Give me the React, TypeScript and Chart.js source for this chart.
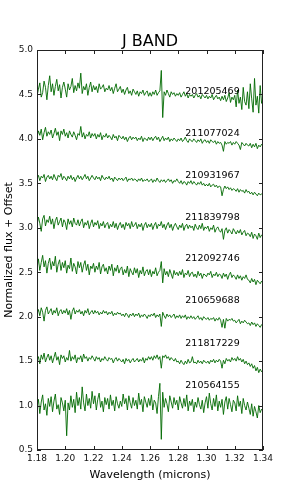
import React, { useEffect, useRef } from "react";
import { Chart, registerables } from "chart.js";

Chart.register(...registerables);

const wavelength = [
  1.180, 1.181, 1.182, 1.183, 1.184, 1.185, 1.186, 1.187, 1.188, 1.189,
  1.190, 1.191, 1.192, 1.193, 1.194, 1.195, 1.196, 1.197, 1.198, 1.199,
  1.200, 1.201, 1.202, 1.203, 1.204, 1.205, 1.206, 1.207, 1.208, 1.209,
  1.210, 1.211, 1.212, 1.213, 1.214, 1.215, 1.216, 1.217, 1.218, 1.219,
  1.220, 1.221, 1.222, 1.223, 1.224, 1.225, 1.226, 1.227, 1.228, 1.229,
  1.230, 1.231, 1.232, 1.233, 1.234, 1.235, 1.236, 1.237, 1.238, 1.239,
  1.240, 1.241, 1.242, 1.243, 1.244, 1.245, 1.246, 1.247, 1.248, 1.249,
  1.250, 1.251, 1.252, 1.253, 1.254, 1.255, 1.256, 1.257, 1.258, 1.259,
  1.260, 1.261, 1.262, 1.263, 1.264, 1.265, 1.266, 1.267, 1.268, 1.269,
  1.270, 1.271, 1.272, 1.273, 1.274, 1.275, 1.276, 1.277, 1.278, 1.279,
  1.280, 1.281, 1.282, 1.283, 1.284, 1.285, 1.286, 1.287, 1.288, 1.289,
  1.290, 1.291, 1.292, 1.293, 1.294, 1.295, 1.296, 1.297, 1.298, 1.299,
  1.300, 1.301, 1.302, 1.303, 1.304, 1.305, 1.306, 1.307, 1.308, 1.309,
  1.310, 1.311, 1.312, 1.313, 1.314, 1.315, 1.316, 1.317, 1.318, 1.319,
  1.320, 1.321, 1.322, 1.323, 1.324, 1.325, 1.326, 1.327, 1.328, 1.329,
  1.330, 1.331, 1.332, 1.333, 1.334, 1.335, 1.336, 1.337, 1.338, 1.339,
  1.340,
];

const starIds = [
  "201205469", "211077024", "210931967", "211839798",
  "212092746", "210659688", "211817229", "210564155",
];
const offsets = [3.5, 3.0, 2.5, 2.0, 1.5, 1.0, 0.5, 0.0];
const labelX = 1.285;
const labelY = [4.53, 4.06, 3.59, 3.11, 2.65, 2.18, 1.70, 1.23];

const flux201205469 = [
  0.98, 1.06, 1.13, 0.97, 1.02, 1.15, 1.08, 0.94, 1.10, 1.21,
  1.03, 1.12, 0.99, 1.09, 1.17, 1.04, 1.11, 0.96, 1.08, 1.14,
  1.06, 0.97, 1.12, 1.05, 1.09, 1.18, 1.02, 1.10, 1.04, 1.13,
  1.07, 1.24, 1.01, 1.09, 1.05, 1.12, 0.99, 1.08, 1.14, 1.03,
  1.10, 1.05, 1.09, 1.02, 1.12, 1.06, 1.08, 1.11, 1.03, 1.07,
  1.05, 1.10, 1.04, 1.08, 1.01, 1.07, 1.12, 1.03, 1.06, 1.09,
  1.02, 1.06, 1.00, 1.05, 1.08, 1.01, 1.04, 0.99, 1.06, 1.03,
  1.00, 1.04, 0.98, 1.03, 1.01, 1.05, 0.99, 1.02, 1.04, 0.98,
  1.02, 0.98, 1.03, 1.00, 1.05, 0.99, 1.02, 1.04, 1.27, 0.74,
  1.03, 0.99, 1.05, 1.01, 0.97, 1.03, 1.00, 1.02, 0.98, 1.01,
  0.99, 1.02, 0.97, 1.00, 1.03, 0.98, 1.01, 0.96, 1.00, 0.98,
  1.00, 0.96, 0.99, 1.01, 0.97, 0.99, 0.95, 1.00, 0.98, 0.96,
  0.99, 0.95, 0.98, 0.96, 1.00, 0.94, 0.97, 0.99, 0.95, 0.97,
  0.93, 0.98, 0.94, 0.99, 0.92, 0.96, 1.02, 0.91, 0.97, 0.94,
  0.99, 0.86, 1.05, 0.90, 0.97, 0.83, 1.08, 0.92, 0.88, 1.03,
  0.84, 1.12, 0.95, 0.80, 1.18, 0.88, 0.98, 0.79, 1.10, 0.90,
  0.96,
];
const flux211077024 = [
  1.02, 1.09, 1.04, 1.11, 0.99, 1.07, 1.13, 1.03, 1.08, 1.05,
  1.10, 1.01, 1.06, 1.12, 1.04, 1.08, 0.98, 1.09, 1.05, 1.11,
  1.03, 1.07, 1.01, 1.09, 1.05, 1.02, 1.08, 1.04, 0.99, 1.06,
  1.04, 1.14, 1.02, 1.07, 1.00, 1.05, 1.03, 1.08, 1.01, 1.06,
  1.03, 1.06, 1.00, 1.05, 1.02, 1.07, 0.99, 1.04, 1.02, 1.06,
  1.01, 1.04, 1.02, 0.99, 1.05, 1.01, 1.03, 0.98, 1.04, 1.02,
  1.00, 1.03, 0.99, 1.02, 0.97, 1.01, 1.03, 0.99, 1.02, 1.00,
  1.02, 0.98, 1.01, 0.99, 1.03, 0.97, 1.01, 1.00, 0.98, 1.02,
  0.99, 1.02, 0.98, 1.01, 1.03, 0.99, 1.02, 0.97, 1.00, 1.03,
  0.98, 1.01, 0.99, 1.02, 0.97, 1.00, 0.98, 1.01, 0.99, 0.97,
  1.00, 0.98, 1.01, 0.97, 0.99, 1.02, 0.98, 0.96, 1.00, 0.98,
  0.97, 1.00, 0.98, 0.96, 0.99, 0.97, 1.00, 0.95, 0.98, 0.99,
  0.96, 0.98, 0.95, 0.99, 0.97, 0.96, 0.98, 0.94, 0.97, 0.95,
  0.96, 0.93, 0.86, 0.97, 0.94, 0.96, 0.95, 0.97, 0.93, 0.96,
  0.94, 0.97, 0.95, 0.93, 0.88, 0.96, 0.94, 0.92, 0.95, 0.93,
  0.92, 0.95, 0.90, 0.94, 0.91, 0.95, 0.89, 0.93, 0.91, 0.94,
  0.92,
];
const flux210931967 = [
  1.05, 1.09, 1.03, 1.08, 1.06, 1.10, 1.02, 1.07, 1.09, 1.05,
  1.08, 1.04, 1.10, 1.06, 1.03, 1.09, 1.07, 1.11, 1.04, 1.08,
  1.06, 1.03, 1.08, 1.05, 1.09, 1.04, 1.07, 1.02, 1.06, 1.09,
  1.05, 1.08, 1.04, 1.07, 1.10, 1.05, 1.08, 1.03, 1.06, 1.09,
  1.06, 1.04, 1.08, 1.05, 1.07, 1.03, 1.09, 1.06, 1.04, 1.07,
  1.05, 1.08, 1.04, 1.06, 1.02, 1.07, 1.05, 1.03, 1.06, 1.04,
  1.06, 1.03, 1.05, 1.07, 1.02, 1.05, 1.04, 1.06, 1.03, 1.05,
  1.04, 1.02, 1.05, 1.03, 1.06, 1.02, 1.04, 1.03, 1.05, 1.02,
  1.03, 1.05, 1.01, 1.04, 1.02, 1.06, 1.03, 1.01, 1.04, 1.02,
  1.04, 1.01, 1.03, 1.05, 1.02, 1.04, 1.00, 1.03, 1.02, 1.05,
  1.02, 1.00, 1.03, 0.99, 1.02, 1.01, 0.98, 1.02, 1.00, 1.03,
  0.99, 1.02, 1.00, 0.98, 1.01, 0.99, 1.02, 0.98, 1.00, 0.97,
  0.99, 0.97, 1.00, 0.96, 0.98, 0.99, 0.96, 0.98, 0.95, 0.97,
  0.96, 0.86, 0.93, 0.97, 0.94, 0.96, 0.93, 0.95, 0.92, 0.94,
  0.93, 0.91, 0.94, 0.90, 0.93, 0.91, 0.92, 0.89, 0.93, 0.90,
  0.91, 0.88, 0.90, 0.87, 0.90, 0.88, 0.86, 0.89, 0.87, 0.88,
  0.87,
];
const flux211839798 = [
  1.03, 1.12, 1.05, 0.96, 1.10, 1.14, 1.02, 1.09, 1.06, 1.13,
  1.04, 1.10, 0.99, 1.08, 1.12, 1.03, 1.07, 1.11, 1.01, 1.09,
  1.06, 0.98, 1.10, 1.04, 1.08, 1.01, 1.11, 1.05, 1.03, 1.09,
  1.02, 1.07, 1.10, 1.00, 1.06, 1.03, 1.08, 0.99, 1.05, 1.09,
  1.01, 1.06, 1.03, 1.08, 0.99, 1.05, 1.02, 1.07, 1.00, 1.04,
  1.06, 0.99, 1.04, 1.01, 1.07, 1.00, 1.05, 0.98, 1.03, 1.06,
  1.00, 1.04, 0.98, 1.06, 1.02, 1.05, 0.99, 1.07, 1.01, 1.03,
  1.06, 0.99, 1.04, 1.01, 1.05, 0.97, 1.03, 1.06, 1.00, 1.04,
  1.01, 1.05, 0.98, 1.03, 1.06, 0.99, 1.04, 1.02, 1.07, 1.00,
  1.04, 0.98, 1.03, 1.06, 1.00, 1.04, 0.97, 1.02, 1.05, 1.01,
  0.98, 1.03, 1.00, 1.05, 0.97, 1.02, 1.04, 0.99, 1.03, 1.00,
  1.02, 0.97, 1.04, 1.00, 0.98, 1.03, 0.99, 1.05, 0.97, 1.01,
  0.99, 1.02, 0.96, 1.00, 0.98, 1.03, 0.95, 0.99, 1.01, 0.97,
  0.95, 0.99, 0.87, 0.97, 1.00, 0.94, 0.98, 0.96, 0.93, 0.99,
  0.96, 0.93, 0.97, 0.94, 0.98, 0.92, 0.95, 0.97, 0.91, 0.94,
  0.93, 0.90, 0.95, 0.88, 0.93, 0.91, 0.87, 0.94, 0.89, 0.92,
  0.90,
];
const flux212092746 = [
  1.04, 1.15, 1.02, 1.11, 1.19, 1.06, 1.13, 0.99, 1.10, 1.16,
  1.03, 1.12, 1.07, 1.18, 1.00, 1.09, 1.14, 1.02, 1.11, 1.05,
  1.13, 0.99, 1.08, 1.04, 1.16, 1.01, 1.10, 1.06, 0.98, 1.12,
  1.05, 1.11, 1.00, 1.08, 1.13, 1.02, 1.09, 0.97, 1.07, 1.04,
  1.10, 1.00, 1.07, 1.03, 1.11, 0.98, 1.06, 1.09, 1.01, 1.05,
  0.98, 1.07, 1.02, 1.09, 0.96, 1.05, 1.01, 1.08, 0.99, 1.04,
  1.06, 0.97, 1.03, 0.99, 1.07, 0.95, 1.04, 1.00, 0.97, 1.05,
  0.99, 1.04, 0.94, 1.02, 0.98, 1.06, 0.96, 1.01, 1.03, 0.97,
  1.03, 0.95, 1.01, 0.98, 1.05, 0.96, 1.00, 1.02, 1.12, 0.88,
  1.04, 0.97, 1.01, 0.95, 1.03, 0.98, 0.93, 1.02, 0.97, 1.00,
  0.96, 1.01, 0.97, 1.03, 0.94, 0.99, 0.97, 1.02, 0.95, 0.99,
  1.00, 0.95, 0.98, 0.94, 1.01, 0.96, 0.99, 0.93, 0.98, 0.97,
  0.95, 0.99, 0.97, 1.01, 0.94, 0.98, 0.96, 1.00, 0.95, 0.98,
  0.97, 0.93, 0.99, 0.95, 0.98, 0.92, 0.97, 1.00, 0.94, 0.97,
  0.95, 0.92, 0.97, 0.93, 0.96, 0.91, 0.95, 0.93, 0.97, 0.92,
  0.91, 0.88, 0.93, 0.89, 0.92, 0.86, 0.91, 0.89, 0.87, 0.90,
  0.88,
];
const flux210659688 = [
  1.03, 1.08, 1.01, 1.10, 1.05, 0.95, 1.07, 1.11, 1.03, 1.06,
  1.09, 1.02, 1.07, 1.04, 1.10, 1.01, 1.06, 1.08, 1.03, 1.07,
  1.04, 1.09, 1.02, 1.07, 0.97, 1.06, 1.10, 1.03, 1.07, 1.05,
  1.08, 1.03, 1.06, 1.01, 1.07, 1.04, 1.09, 1.02, 1.05, 1.07,
  1.03, 1.07, 1.04, 1.06, 1.02, 1.05, 1.03, 1.07, 1.04, 1.06,
  1.02, 1.05, 1.03, 1.06, 1.01, 1.04, 1.02, 1.05, 1.03, 1.04,
  1.01, 1.03, 1.00, 1.04, 1.02, 0.99, 1.03, 1.01, 1.04, 1.00,
  1.03, 1.01, 1.04, 0.99, 1.02, 1.00, 1.03, 1.01, 0.98, 1.02,
  1.00, 1.03, 1.01, 1.04, 0.99, 1.02, 1.00, 1.03, 0.89, 1.05,
  1.01, 0.98, 1.03, 1.00, 1.02, 0.99, 1.01, 1.03, 0.98, 1.01,
  0.99, 1.02, 0.98, 1.01, 0.99, 1.02, 0.97, 1.00, 0.98, 1.01,
  0.98, 1.00, 0.97, 0.99, 1.01, 0.97, 0.99, 0.96, 1.00, 0.98,
  0.97, 0.99, 0.96, 0.98, 0.97, 0.99, 0.95, 0.98, 0.96, 0.99,
  0.96, 0.88, 0.97, 0.87, 0.98, 0.95, 0.97, 0.96, 0.98, 0.95,
  0.96, 0.93, 0.95, 0.97, 0.92, 0.95, 0.93, 0.96, 0.94, 0.92,
  0.93, 0.90, 0.94, 0.91, 0.93, 0.89, 0.92, 0.90, 0.88, 0.91,
  0.90,
];
const flux211817229 = [
  1.00, 1.05, 0.97, 1.07, 1.02, 1.09, 0.99, 1.04, 1.08, 1.01,
  1.06, 0.98, 1.04, 1.10, 1.01, 1.05, 0.96, 1.07, 1.03, 1.06,
  0.99, 1.04, 1.01, 1.12, 1.00, 1.05, 1.02, 1.07, 0.98, 1.04,
  1.02, 1.06, 0.99, 1.08, 1.03, 1.05, 1.00, 1.04, 1.02, 1.06,
  1.03, 1.00, 1.05, 1.02, 1.04, 0.99, 1.03, 1.01, 1.05, 1.02,
  1.00, 1.04, 1.02, 1.03, 0.98, 1.02, 1.04, 1.00, 1.03, 1.01,
  0.99, 1.02, 0.97, 1.03, 1.00, 1.02, 0.98, 1.01, 1.03, 0.99,
  1.01, 1.03, 0.99, 1.02, 1.00, 1.04, 0.98, 1.03, 1.01, 1.05,
  1.02, 1.05, 1.01, 1.06, 1.03, 1.07, 1.02, 1.05, 0.92, 1.06,
  1.04, 1.07, 1.03, 1.05, 1.01, 1.04, 1.02, 1.00, 1.03, 0.99,
  1.00, 0.97, 1.01, 0.98, 0.96, 1.00, 0.97, 1.02, 0.98, 0.99,
  1.05, 0.98, 0.99, 0.97, 1.01, 0.98, 1.00, 0.97, 1.01, 0.99,
  0.98, 1.00, 0.97, 1.01, 0.99, 1.02, 0.98, 1.01, 0.99, 1.02,
  1.00, 0.92, 1.01, 0.97, 1.03, 1.00, 1.02, 0.99, 1.04, 1.01,
  1.03, 1.00, 1.05, 1.01, 1.03, 0.99, 1.02, 0.97, 1.00, 0.96,
  0.98, 0.94, 0.97, 0.92, 0.95, 0.89, 0.93, 0.87, 0.91, 0.88,
  0.90,
];
const flux210564155 = [
  0.98, 1.07, 0.91, 1.04, 1.12, 0.95, 1.02, 0.89, 1.08, 0.99,
  1.10, 0.93, 1.05, 1.13, 0.96, 1.01, 0.90, 1.09, 1.03, 0.94,
  1.06, 0.66, 1.03, 0.95, 1.11, 0.98, 1.07, 0.92, 1.15, 1.00,
  1.09, 0.96, 1.21, 1.03, 0.94, 1.13, 1.00, 1.08, 0.97, 1.16,
  1.02, 1.11, 0.95, 1.07, 1.14, 0.98, 1.05, 0.93, 1.09, 1.01,
  1.08, 0.96, 1.12, 1.00, 1.06, 0.94, 1.10, 1.02, 0.97, 1.05,
  0.99, 1.13, 1.02, 1.08, 0.95, 1.11, 1.03, 0.97, 1.09, 1.00,
  1.06, 0.96, 1.14, 1.01, 1.07, 0.93, 1.10, 1.04, 0.98, 1.08,
  1.00, 1.12, 0.95, 1.06, 1.03, 0.91, 1.10, 1.25, 0.62, 1.15,
  0.98, 1.08, 1.02, 0.93, 1.11, 1.04, 0.97, 1.09, 1.01, 1.06,
  0.95, 1.10, 1.03, 0.97, 1.08, 0.99, 1.12, 0.94, 1.05, 1.00,
  1.07, 0.93, 1.04, 0.98, 1.09, 1.01, 0.96, 1.06, 0.92, 1.03,
  1.10, 0.97, 1.14, 1.02, 0.95, 1.08, 0.99, 1.12, 0.94, 1.05,
  0.98, 1.07, 0.90, 1.04, 1.10, 0.96, 1.08, 1.01, 0.93, 1.06,
  1.03, 0.94, 1.11, 0.99, 1.05, 0.91, 1.08, 1.00, 0.95, 1.04,
  0.97, 0.90, 1.02, 0.88, 0.99, 0.93, 0.86, 1.00, 0.92, 0.96,
  0.94,
];

const fluxes = [
  flux201205469, flux211077024, flux210931967, flux211839798,
  flux212092746, flux210659688, flux211817229, flux210564155,
];

const xTicks = [1.18, 1.20, 1.22, 1.24, 1.26, 1.28, 1.30, 1.32, 1.34];
const yTicks = [0.5, 1.0, 1.5, 2.0, 2.5, 3.0, 3.5, 4.0, 4.5, 5.0];

const FONT = "'DejaVu Sans', sans-serif";

const decorPlugin = {
  id: "decor",
  afterDatasetsDraw(chart: any) {
    const { ctx, chartArea, scales } = chart;
    const { left, right, top, bottom } = chartArea;
    const xs = scales.x;
    const ys = scales.y;
    ctx.save();
    ctx.strokeStyle = "#222";
    ctx.lineWidth = 1;
    ctx.strokeRect(left + 0.5, top + 0.5, right - left - 1, bottom - top - 1);
    const tl = 4;
    ctx.beginPath();
    xTicks.forEach((v) => {
      const px = Math.round(xs.getPixelForValue(v)) + 0.5;
      ctx.moveTo(px, bottom);
      ctx.lineTo(px, bottom - tl);
      ctx.moveTo(px, top);
      ctx.lineTo(px, top + tl);
    });
    yTicks.forEach((v) => {
      const py = Math.round(ys.getPixelForValue(v)) + 0.5;
      ctx.moveTo(left, py);
      ctx.lineTo(left + tl, py);
      ctx.moveTo(right, py);
      ctx.lineTo(right - tl, py);
    });
    ctx.stroke();
    ctx.fillStyle = "#000";
    ctx.font = `9.5px ${FONT}`;
    ctx.textAlign = "left";
    ctx.textBaseline = "middle";
    starIds.forEach((id, i) => {
      ctx.fillText(id, xs.getPixelForValue(labelX), ys.getPixelForValue(labelY[i]));
    });
    const cx = (left + right) / 2;
    ctx.textAlign = "center";
    ctx.textBaseline = "alphabetic";
    ctx.font = `16px ${FONT}`;
    ctx.fillText("J BAND", cx, 46);
    ctx.font = `11px ${FONT}`;
    ctx.fillText("Wavelength (microns)", cx, 478);
    ctx.translate(12, (top + bottom) / 2);
    ctx.rotate(-Math.PI / 2);
    ctx.fillText("Normalized flux + Offset", 0, 0);
    ctx.restore();
  },
};

export default function App() {
  const canvasRef = useRef<HTMLCanvasElement | null>(null);

  useEffect(() => {
    const canvas = canvasRef.current;
    if (!canvas) return;
    const datasets = fluxes.map((f, i) => ({
      label: starIds[i],
      data: wavelength.map((w, j) => ({ x: w, y: f[j] + offsets[i] })),
      borderColor: "rgba(0,105,0,0.9)",
      borderWidth: 1,
      pointRadius: 0,
      fill: false,
      tension: 0,
    }));
    const chart = new Chart(canvas, {
      type: "line",
      data: { datasets },
      plugins: [decorPlugin],
      options: {
        responsive: false,
        animation: false,
        devicePixelRatio: 1,
        layout: { padding: { left: 0, right: 28, top: 50, bottom: 0 } },
        plugins: {
          legend: { display: false },
          tooltip: { enabled: false },
          title: { display: false },
        },
        scales: {
          x: {
            type: "linear",
            min: 1.18,
            max: 1.34,
            afterBuildTicks: (s: any) => {
              s.ticks = xTicks.map((v) => ({ value: v }));
            },
            afterFit: (s: any) => {
              s.height = 51;
            },
            grid: { display: false, drawTicks: false },
            border: { display: false },
            ticks: {
              padding: 3,
              color: "#111",
              font: { family: FONT, size: 9 },
              maxRotation: 0,
              autoSkip: false,
              callback: (v: any) => Number(v).toFixed(2),
            },
          },
          y: {
            type: "linear",
            min: 0.5,
            max: 5.0,
            afterBuildTicks: (s: any) => {
              s.ticks = yTicks.map((v) => ({ value: v }));
            },
            afterFit: (s: any) => {
              s.width = 37;
            },
            grid: { display: false, drawTicks: false },
            border: { display: false },
            ticks: {
              padding: 4,
              color: "#111",
              font: { family: FONT, size: 9 },
              autoSkip: false,
              callback: (v: any) => Number(v).toFixed(1),
            },
          },
        },
      },
    });
    return () => chart.destroy();
  }, []);

  return (
    <div style={{ position: "fixed", left: 0, top: 0, width: 291, height: 501, background: "#fff" }}>
      <canvas ref={canvasRef} width={291} height={501} style={{ width: 291, height: 501, display: "block" }} />
    </div>
  );
}
